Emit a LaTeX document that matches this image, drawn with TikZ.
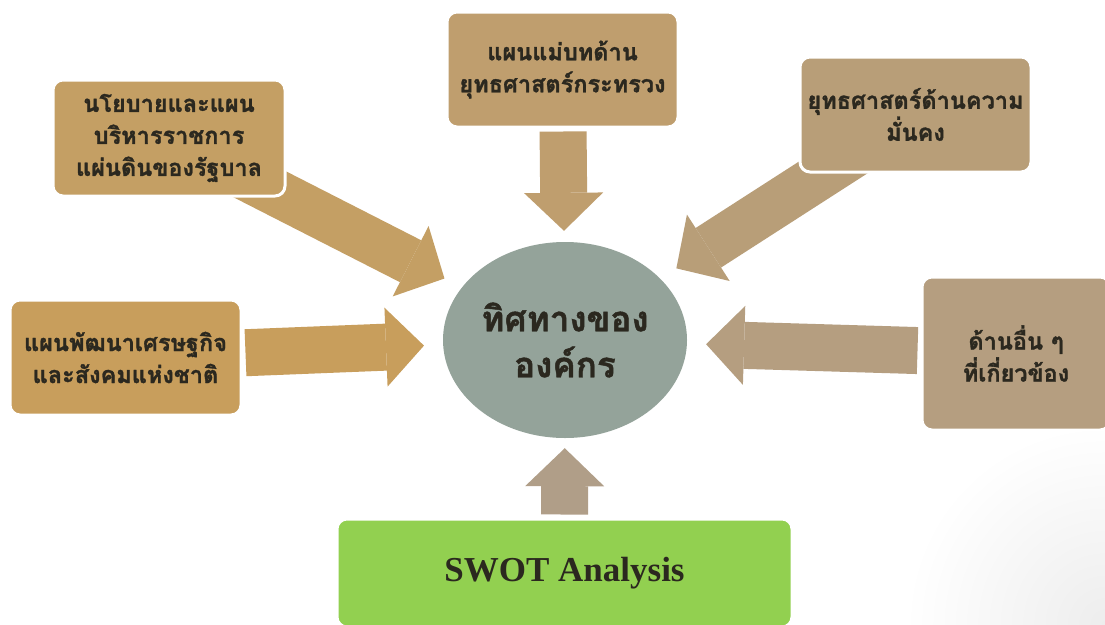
\documentclass[tikz,border=0pt]{standalone}
\usepackage{fontspec}
\setmainfont{Liberation Serif}
\newfontfamily\thaifont[Script=Thai, BoldFeatures={FakeBold=1.3}]{Loma}
\usetikzlibrary{arrows.meta,shapes.geometric}

\definecolor{ink}{HTML}{2B281F}
\definecolor{policyC}{HTML}{C49F64}
\definecolor{masterC}{HTML}{BF9E6E}
\definecolor{securityC}{HTML}{B89E78}
\definecolor{nationalC}{HTML}{C89E5C}
\definecolor{otherC}{HTML}{B59E80}
\definecolor{swotArrowC}{HTML}{B09E88}
\definecolor{orgC}{HTML}{94A39A}
\definecolor{swotC}{HTML}{92D050}

\pgfdeclarelayer{bg}
\pgfdeclarelayer{links}
\pgfsetlayers{bg,links,main}

\begin{document}
\begin{tikzpicture}[x=1pt,y=-1pt,
  box/.style={rectangle, rounded corners=10pt, draw=white, line width=3pt,
    text=ink, align=center, inner sep=0pt,
    font=\thaifont\bfseries\fontsize{23.5}{32}\selectfont},
  blockarrow/.style={line width=47pt,
    -{Triangle[width=79pt,length=38pt,line width=0pt]}},
]
\useasboundingbox (0,0) rectangle (1105,624);

% sources
\node[box, fill=policyC, minimum width=232pt, minimum height=116pt]
  (policy) at (169,138) {นโยบายและแผน\\บริหารราชการ\\แผ่นดินของรัฐบาล};
\node[box, fill=masterC, minimum width=231pt, minimum height=115pt]
  (master) at (562.5,69.5) {แผนแม่บทด้าน\\ยุทธศาสตร์กระทรวง};
\node[box, fill=securityC, minimum width=231pt, minimum height=115pt]
  (security) at (915.5,114.5) {ยุทธศาสตร์ด้านความ\\มั่นคง};
\node[box, fill=nationalC, minimum width=231pt, minimum height=115pt]
  (national) at (125.5,357.5) {แผนพัฒนาเศรษฐกิจ\\และสังคมแห่งชาติ};
\node[box, fill=otherC, minimum width=188pt, minimum height=153pt]
  (other) at (1016,353.5) {ด้านอื่น ๆ\\ที่เกี่ยวข้อง};
\node[box, fill=swotC, minimum width=455pt, minimum height=108pt,
  font=\rmfamily\bfseries\fontsize{35}{40}\selectfont]
  (swot) at (564.5,573) {SWOT Analysis};

% centre
\node[ellipse, fill=orgC, minimum width=244pt, minimum height=196pt,
  inner sep=0pt, text=ink, align=center,
  font=\thaifont\bfseries\fontsize{35}{46}\selectfont]
  (org) at (565,340) {ทิศทางของ\\องค์กร};

\begin{pgfonlayer}{bg}
  \fill[white] (0,0) rectangle (1105,624);
  \shade[inner color=black!7, outer color=white] (1105,624) circle (200pt);
\end{pgfonlayer}

\begin{pgfonlayer}{links}
  \draw[blockarrow, policyC, shorten >=19.5pt] (policy.center) -- (org);
  \draw[blockarrow, masterC, shorten <=3pt, shorten >=11pt] (master) -- (org);
  \draw[blockarrow, securityC, shorten >=19pt] (security.center) -- (org);
  \draw[blockarrow, nationalC, shorten <=3pt, shorten >=19pt] (national) -- (org);
  \draw[blockarrow, otherC, shorten <=3pt, shorten >=19pt] (other) -- (org);
  \draw[blockarrow, swotArrowC, shorten <=3pt, shorten >=10pt] (swot) -- (org);
\end{pgfonlayer}
\end{tikzpicture}
\end{document}
